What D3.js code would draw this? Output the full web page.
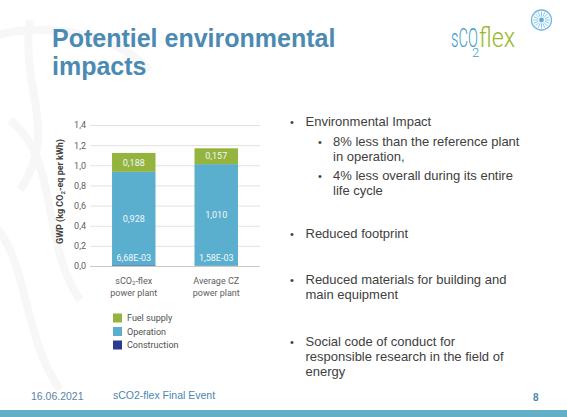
<!DOCTYPE html>
<html>
<head>
<meta charset="utf-8">
<script src="https://cdn.jsdelivr.net/npm/d3@7"></script>
<style>
	body { margin: 0; background: #fff; }
	svg { display: block; font-family: "Liberation Sans", Arial, sans-serif; }
	.chart text { font-family: Roboto, "Noto Sans", sans-serif; }
</style>
</head>
<body>
<svg id="slide" width="567" height="417"></svg>
<script>

// chart data
const categories = ["sCO2-flex power plant", "Average CZ power plant"];
const seriesNames = ["construction", "operation", "fuel"];
const construction = [0.00668, 0.00158];
const operation = [0.928, 1.010];
const fuel = [0.188, 0.157];
const yTicks = [0, 0.2, 0.4, 0.6, 0.8, 1.0, 1.2, 1.4];
const legendNames = ["Fuel supply", "Operation", "Construction"];

const colors = { fuel: "#95b43e", operation: "#5aafcf", construction: "#2b3a8f" };
const legendKeys = ["fuel", "operation", "construction"];

const bullets = [
	{ level: 0, lines: ["Environmental Impact"], y: 126 },
	{ level: 1, lines: ["8% less than the reference plant", "in operation,"], y: 145.5 },
	{ level: 1, lines: ["4% less overall during its entire", "life cycle"], y: 180 },
	{ level: 0, lines: ["Reduced footprint"], y: 237.5 },
	{ level: 0, lines: ["Reduced materials for building and", "main equipment"], y: 284 },
	{ level: 0, lines: ["Social code of conduct for", "responsible research in the field of", "energy"], y: 345.5 }
];

const locale = d3.formatLocale({ decimal: ",", thousands: ".", grouping: [3], currency: ["", ""] });
const tickFmt = locale.format(".1f");
function valueFmt(v) {
	if (v < 0.01) {
		// excel style scientific label, e.g. 6,68E-03
		let parts = v.toExponential(2).split("e");
		let exp = parseInt(parts[1]);
		let sign = exp < 0 ? "-" : "+";
		return parts[0].replace(".", ",") + "E" + sign + String(Math.abs(exp)).padStart(2, "0");
	}
	return locale.format(".3f")(v);
}

const svg = d3.select("#slide");

// faint background swirls
const deco = svg.append("g").attr("fill", "none").attr("stroke", "#f7f7f7").attr("stroke-width", 8);
deco.append("path").attr("d", "M-20,40 C40,20 110,30 150,70");
deco.append("path").attr("d", "M10,120 C60,160 40,240 80,300");
deco.append("path").attr("d", "M-10,220 C30,260 20,330 60,390");
deco.append("path").attr("d", "M30,20 C20,90 60,130 20,190");

// title
svg.append("text")
	.attr("font-size", 25).attr("font-weight", "bold").attr("fill", "#4a8ab3")
	.selectAll("tspan").data(["Potentiel environmental", "impacts"]).enter().append("tspan")
	.attr("x", 52).attr("y", (d, i) => 46.7 + i * 28.3)
	.text(d => d);

// logo, one text with tspans
const logo = svg.append("g").attr("font-family", "Roboto, sans-serif").attr("font-weight", 300);
const lt = logo.append("text").attr("y", 47).attr("font-size", 25);
lt.append("tspan").attr("x", 451).attr("fill", "#3e9ccb")
	.attr("textLength", 27).attr("lengthAdjust", "spacingAndGlyphs").text("sCO");
lt.append("tspan").attr("x", 472).attr("y", 57).attr("font-size", 13).attr("fill", "#3e9ccb").text("2");
lt.append("tspan").attr("x", 479).attr("y", 47).attr("font-size", 27).attr("fill", "#9ab928")
	.attr("textLength", 36).attr("lengthAdjust", "spacingAndGlyphs").text("flex");
const sun = logo.append("g").attr("transform", "translate(541.5,20)");
sun.append("circle").attr("r", 10).attr("fill", "#fff").attr("stroke", "#6fb8de").attr("stroke-width", 1.3);
sun.selectAll("line").data(d3.range(16)).enter().append("line")
	.attr("x1", d => 3.5 * Math.cos(d * Math.PI / 8)).attr("y1", d => 3.5 * Math.sin(d * Math.PI / 8))
	.attr("x2", d => 8.5 * Math.cos(d * Math.PI / 8)).attr("y2", d => 8.5 * Math.sin(d * Math.PI / 8))
	.attr("stroke", "#7ec2e4").attr("stroke-width", 0.9);
sun.append("circle").attr("r", 2.4).attr("fill", "#5aaad6");

// chart
const chart = svg.append("g").attr("class", "chart");

const table = categories.map((c, i) => ({
	category: c,
	construction: construction[i],
	operation: operation[i],
	fuel: fuel[i]
}));
const stacked = d3.stack().keys(seriesNames)(table);

const x = d3.scaleBand().domain(categories).range([90, 260]).paddingInner(0.473).paddingOuter(0.267);
const y = d3.scaleLinear().domain([0, 1.4]).range([266, 125]);

const yAxis = d3.axisLeft(y).tickValues(yTicks).tickFormat(tickFmt).tickSize(-170).tickPadding(4);
const ag = chart.append("g").attr("transform", "translate(90,0)").call(yAxis);
ag.select(".domain").remove();
ag.selectAll(".tick line").attr("stroke", d => d === 0 ? "#c8c8c8" : "#e2e2e2");
ag.selectAll(".tick text").attr("fill", "#606060").attr("font-size", 9).attr("font-family", "Roboto, sans-serif");

// axis title
chart.append("text")
	.attr("transform", "translate(63," + y(0.74) + ") rotate(-90)")
	.attr("text-anchor", "middle").attr("font-size", 9).attr("font-weight", "bold").attr("fill", "#404040")
	.call(t => {
		t.append("tspan").text("GWP (kg CO");
		t.append("tspan").attr("font-size", 6).attr("dy", 2).text("2");
		t.append("tspan").attr("dy", -2).text("-eq per kWh)");
	});

const layers = chart.selectAll(".layer").data(stacked).enter().append("g")
	.attr("class", "layer").attr("fill", d => colors[d.key]);
layers.selectAll("rect").data(d => d).enter().append("rect")
	.attr("x", d => x(d.data.category))
	.attr("width", x.bandwidth())
	.attr("y", d => y(d[1]))
	.attr("height", d => y(d[0]) - y(d[1]));

// value labels, drawn after all rects so the tiny construction values stay on top
const labelData = stacked.flatMap(s => s.map(v => ({ key: s.key, v: v })));
chart.append("g").selectAll("text").data(labelData).enter().append("text")
	.attr("x", d => x(d.v.data.category) + x.bandwidth() / 2)
	.attr("y", d => d.key === "construction" ? y(0) - 8 : (y(d.v[0]) + y(d.v[1])) / 2)
	.attr("dy", "0.35em")
	.attr("text-anchor", "middle").attr("font-size", 9).attr("fill", "#f2f7fa")
	.text(d => valueFmt(d.v[1] - d.v[0]));

// category labels
const catLines = [["sCO|2|-flex", "power plant"], ["Average CZ", "power plant"]];
categories.forEach((c, i) => {
	const t = chart.append("text").attr("text-anchor", "middle").attr("font-size", 9).attr("fill", "#606060");
	catLines[i].forEach((line, j) => {
		const parts = line.split("|");
		const ts = t.append("tspan").attr("x", x(c) + x.bandwidth() / 2).attr("y", 283.5 + j * 12.5);
		if (parts.length === 1) {
			ts.text(line);
		} else {
			ts.text(parts[0]);
			t.append("tspan").attr("font-size", 6).attr("dy", 1.5).text(parts[1]);
			t.append("tspan").attr("dy", -1.5).text(parts[2]);
		}
	});
});

// legend
const legend = chart.selectAll(".legend").data(legendNames).enter().append("g")
	.attr("class", "legend").attr("transform", (d, i) => "translate(113," + (313.5 + i * 13.5) + ")");
legend.append("rect").attr("width", 9).attr("height", 9).attr("fill", (d, i) => colors[legendKeys[i]]);
legend.append("text").attr("x", 14).attr("y", 4.5).attr("dy", "0.35em")
	.attr("font-size", 9).attr("fill", "#505050").text(d => d);

// bullets
const bl = svg.append("g").attr("font-size", 13).attr("fill", "#404040");
bullets.forEach(b => {
	const bx = b.level === 0 ? 290 : 318;
	const tx = b.level === 0 ? 305.5 : 333;
	bl.append("text").attr("x", bx).attr("y", b.y).attr("font-size", 11).text("•");
	b.lines.forEach((line, j) => {
		bl.append("text").attr("x", tx).attr("y", b.y + j * 15.2).text(line);
	});
});

// footer
svg.append("rect").attr("x", 0).attr("y", 410).attr("width", 567).attr("height", 7).attr("fill", "#64aec8");
svg.append("text").attr("x", 31).attr("y", 400).attr("font-size", 10.5).attr("fill", "#5b84a6").text("16.06.2021");
svg.append("text").attr("x", 113).attr("y", 399).attr("font-size", 10.5).attr("fill", "#4a86b0").text("sCO2-flex Final Event");
svg.append("text").attr("x", 533).attr("y", 400.5).attr("font-size", 10).attr("font-weight", "bold").attr("fill", "#4a86b0").text("8");

</script>
</body>
</html>
